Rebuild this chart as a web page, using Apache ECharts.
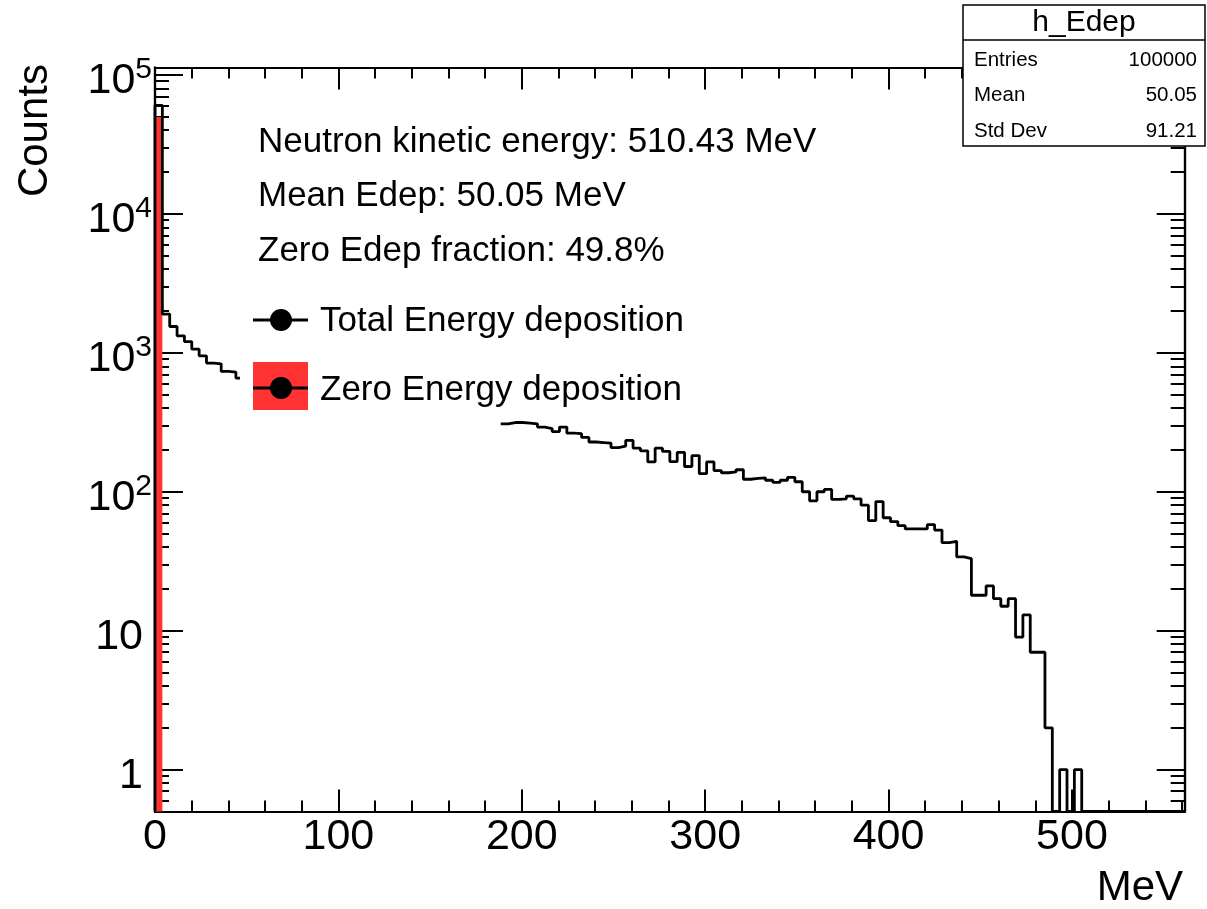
<!DOCTYPE html>
<html><head><meta charset="utf-8">
<script src="https://cdn.jsdelivr.net/npm/echarts@6/dist/echarts.min.js"></script>
<style>html,body{margin:0;padding:0;background:#fff}#c{width:1207px;height:909px}</style>
</head><body><div id="c"></div>
<script>
// ---- histogram binning (h_Edep: 140 bins from 0 to 561.473 MeV) ----
const X_MIN = 0, X_MAX = 561.473, N_BINS = 140;
const Y_MIN = 0.5, Y_MAX = 1.13e5;

// Total energy deposition counts per bin (null = hidden behind legend)
const totalCounts = [
  60400, 1898, 1546, 1325, 1205, 1062, 951, 844, 833, 734, 726, 658,
  null, null, null, null, null, null, null, null, null, null,
  null, null, null, null, null, null, null, null, null, null,
  null, null, null, null, null, null, null, null, null, null,
  null, null, null, null, null,
  308, 315, 315, 312, 308, 292, 285, 271, 292, 264,
  262, 246, 228, 226, 224, 208, 213, 234, 206, 197,
  164, 206, 195, 165, 192, 152, 182, 135, 164, 142,
  137, 139, 144, 123, 125, 126, 121, 117, 121, 127,
  118, 100, 86, 100, 104, 88, 89, 93, 89, 80,
  62, 85, 65, 61, 57, 54, 54, 54, 58, 53,
  43, 44, 34, 33, 18, 18, 21, 17, 15, 17,
  9, 13, 7, 7, 2, 0, 1, 0, 1,
  0, 0, 0, 0, 0, 0, 0, 0, 0, 0, 0, 0, 0, 0
];
// Zero energy deposition (only first bin filled)
const zeroCounts = [49800];

// Axis ticks / labels
const xMajorTicks = [0, 100, 200, 300, 400, 500];
const xMinorTicks = [20, 40, 60, 80, 120, 140, 160, 180, 220, 240, 260, 280, 320, 340, 360, 380, 420, 440, 460, 480, 520, 540, 560];
const yMajorTicks = [1, 10, 100, 1000, 10000, 100000];
const yMinorTicks = [0.6, 0.7, 0.8, 0.9,
  2, 3, 4, 5, 6, 7, 8, 9, 20, 30, 40, 50, 60, 70, 80, 90,
  200, 300, 400, 500, 600, 700, 800, 900, 2000, 3000, 4000, 5000, 6000, 7000, 8000, 9000,
  20000, 30000, 40000, 50000, 60000, 70000, 80000, 90000];

const statsTitle = 'h_Edep';
const statsRows = [['Entries', '100000'], ['Mean', '50.05'], ['Std Dev', '91.21']];
const infoLines = ['Neutron kinetic energy: 510.43 MeV', 'Mean Edep: 50.05 MeV', 'Zero Edep fraction: 49.8%'];
const legendNames = ['Total Energy deposition', 'Zero Energy deposition'];

const FONT = "'Liberation Sans', Arial, Helvetica, sans-serif";
const RED = '#ff3333';
const binW = (X_MAX - X_MIN) / N_BINS;
const edge = k => X_MIN + k * binW;

// step outline points
const linePts = [];
for (let k = 0; k < N_BINS; k++) {
  const v = totalCounts[k];
  if (v === null) {
    if (linePts.length && linePts[linePts.length - 1][1] !== '-') linePts.push([edge(k), '-']);
    continue;
  }
  const y = Math.max(v, Y_MIN);
  if (k === 0) linePts.push([edge(0), Y_MIN]);
  linePts.push([edge(k), y], [edge(k + 1), y]);
}
linePts.push([X_MAX, Y_MIN]);

const tickStyle = {color: '#000', width: 2};
const lineStyleAx = {color: '#000', width: 2.2};
function xAx(pos, ticks, len, labels) {
  return {
    type: 'value', min: X_MIN, max: X_MAX, position: pos,
    axisLine: {show: true, onZero: false, lineStyle: lineStyleAx},
    splitLine: {show: false},
    axisTick: {show: true, inside: true, length: len, lineStyle: tickStyle, customValues: ticks},
    axisLabel: labels ? {show: true, customValues: xMajorTicks, fontSize: 43, margin: 4, color: '#000', fontFamily: FONT} : {show: false}
  };
}
function yAx(pos, ticks, len, labels) {
  return {
    type: 'log', logBase: 10, min: Y_MIN, max: Y_MAX, position: pos,
    axisLine: {show: true, onZero: false, lineStyle: lineStyleAx},
    splitLine: {show: false},
    axisTick: {show: true, inside: true, length: len, lineStyle: tickStyle, customValues: ticks},
    axisLabel: labels ? {
      show: true, customValues: yMajorTicks, margin: 3, padding: [12, 0, 0, 0],
      formatter: v => {
        const e = Math.round(Math.log10(v));
        if (e === 0) return '{b|1}{g| }';
        if (e === 1) return '{b|10}{g| }';
        return '{b|10}{s|' + e + '}';
      },
      rich: {
        b: {fontSize: 43, lineHeight: 52, fontFamily: FONT, color: '#000'},
        s: {fontSize: 30, lineHeight: 30, verticalAlign: 'top', fontFamily: FONT, color: '#000'},
        g: {fontSize: 10, width: 9, color: 'rgba(0,0,0,0)'}
      }
    } : {show: false}
  };
}

const graphics = [
  // axis titles
  {type: 'text', x: 35, y: 64, rotation: Math.PI / 2, z: 100,
   style: {text: 'Counts', font: '42px ' + FONT, fill: '#000', textAlign: 'right', textVerticalAlign: 'middle'}},
  {type: 'text', x: 1183, y: 888, z: 100,
   style: {text: 'MeV', font: '42px ' + FONT, fill: '#000', textAlign: 'right', textVerticalAlign: 'middle'}},
  // legend box background
  {type: 'rect', z: 50, shape: {x: 240, y: 290, width: 260, height: 140}, style: {fill: '#fff'}},
  // legend entry 1
  {type: 'line', z: 60, shape: {x1: 253, y1: 320, x2: 308, y2: 320}, style: {stroke: '#000', lineWidth: 3}},
  {type: 'circle', z: 61, shape: {cx: 281, cy: 320, r: 11}, style: {fill: '#000'}},
  {type: 'text', z: 60, x: 320, y: 321, style: {text: legendNames[0], font: '35px ' + FONT, fill: '#000', textVerticalAlign: 'middle'}},
  // legend entry 2
  {type: 'rect', z: 60, shape: {x: 253, y: 362, width: 55, height: 48}, style: {fill: RED}},
  {type: 'line', z: 61, shape: {x1: 253, y1: 388, x2: 308, y2: 388}, style: {stroke: '#000', lineWidth: 3}},
  {type: 'circle', z: 62, shape: {cx: 281, cy: 388, r: 11}, style: {fill: '#000'}},
  {type: 'text', z: 60, x: 320, y: 390, style: {text: legendNames[1], font: '35px ' + FONT, fill: '#000', textVerticalAlign: 'middle'}},
  // stats box
  {type: 'rect', z: 100, shape: {x: 963, y: 5, width: 242, height: 141}, style: {fill: '#fff', stroke: '#000', lineWidth: 1.5}},
  {type: 'line', z: 101, shape: {x1: 963, y1: 40, x2: 1205, y2: 40}, style: {stroke: '#000', lineWidth: 1.5}},
  {type: 'text', z: 101, x: 1084, y: 23, style: {text: statsTitle, font: '30px ' + FONT, fill: '#000', textAlign: 'center', textVerticalAlign: 'middle'}}
];
statsRows.forEach((r, i) => {
  const yy = 60 + i * 35.5;
  graphics.push({type: 'text', z: 101, x: 974, y: yy, style: {text: r[0], font: '20.5px ' + FONT, fill: '#000', textVerticalAlign: 'middle'}});
  graphics.push({type: 'text', z: 101, x: 1197, y: yy, style: {text: r[1], font: '20.5px ' + FONT, fill: '#000', textAlign: 'right', textVerticalAlign: 'middle'}});
});
infoLines.forEach((t, i) => {
  graphics.push({type: 'text', z: 60, x: 258, y: [142, 196, 251][i], style: {text: t, font: '35px ' + FONT, fill: '#000', textVerticalAlign: 'middle'}});
});

const chart = echarts.init(document.getElementById('c'), null, {renderer: 'canvas'});
chart.setOption({
  animation: false,
  backgroundColor: '#fff',
  grid: {left: 155, top: 67.5, width: 1029.7, height: 744, containLabel: false},
  xAxis: [
    xAx('bottom', xMajorTicks, 22, true),
    xAx('bottom', xMinorTicks, 11, false),
    xAx('top', xMajorTicks, 22, false),
    xAx('top', xMinorTicks, 11, false)
  ],
  yAxis: [
    yAx('left', yMajorTicks, 28, true),
    yAx('left', yMinorTicks, 14, false),
    yAx('right', yMajorTicks, 28, false),
    yAx('right', yMinorTicks, 14, false)
  ],
  series: [
    {
      name: legendNames[1], type: 'custom', xAxisIndex: 0, yAxisIndex: 0, z: 1,
      encode: {x: [0, 1], y: 2},
      data: zeroCounts.map((v, i) => [edge(i), edge(i + 1), v]),
      renderItem: (params, api) => {
        const p0 = api.coord([api.value(0), Y_MIN]);
        const p1 = api.coord([api.value(1), api.value(2)]);
        return {type: 'rect', shape: {x: p0[0], y: p1[1], width: p1[0] - p0[0], height: p0[1] - p1[1]}, style: {fill: RED}};
      }
    },
    {
      name: legendNames[0], type: 'line', xAxisIndex: 0, yAxisIndex: 0, z: 3,
      data: linePts, showSymbol: false, symbol: 'none', connectNulls: false,
      lineStyle: {color: '#000', width: 2.8}
    }
  ],
  graphic: graphics
});
</script></body></html>
